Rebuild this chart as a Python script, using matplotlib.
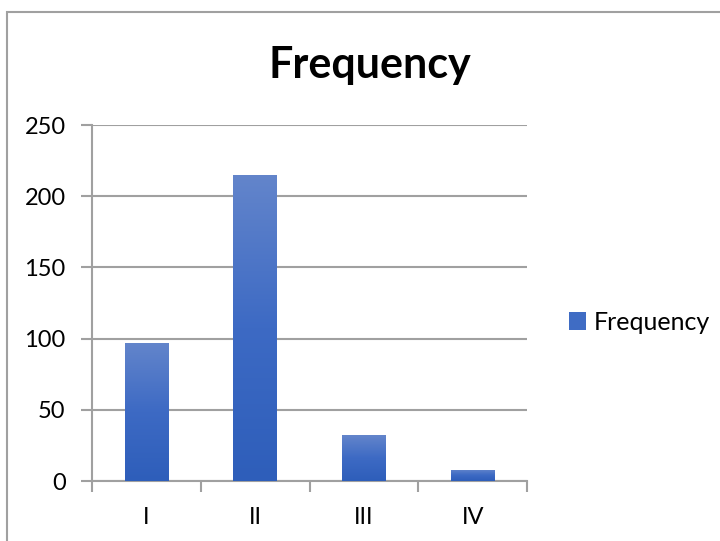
import numpy as np
import matplotlib
matplotlib.use("Agg")
import matplotlib.pyplot as plt
from matplotlib.colors import LinearSegmentedColormap
from matplotlib.patches import Rectangle, Patch

categories = ["I", "II", "III", "IV"]
frequency = [97, 215, 32, 8]
y_ticks = [0, 50, 100, 150, 200, 250]

plt.rcParams['font.family'] = ['Lato', 'DejaVu Sans']

fig = plt.figure(figsize=(7.2, 5.41), dpi=100)
ax = fig.add_axes([92 / 720, 1 - 481 / 541, 435 / 720, 356 / 541])

grid_c = "#a0a0a0"
x = np.arange(len(categories))
bars = ax.bar(x, frequency, width=0.40, color="#3f6cc4", zorder=2)

# vertical gradient fill for each bar, lighter at the top
cmap = LinearSegmentedColormap.from_list("bar", ["#2e5eba", "#3d6ac4", "#6385cb"])
grad = np.linspace(0, 1, 256).reshape(-1, 1)
for b in bars:
    x0, y0 = b.get_x(), b.get_y()
    w, h = b.get_width(), b.get_height()
    im = ax.imshow(grad, cmap=cmap, origin="lower", aspect="auto",
                   extent=[x0, x0 + w, y0, y0 + h], zorder=3)
    im.set_clip_path(b)

ax.set_xlim(-0.5, len(categories) - 0.5)
ax.set_ylim(0, 250)
ax.set_yticks(y_ticks)
ax.set_yticklabels([str(v) for v in y_ticks], fontsize=17)
ax.set_xticks(x)
ax.set_xticklabels(categories, fontsize=17)
ax.set_xticks(np.arange(-0.5, len(categories)), minor=True)
ax.tick_params(axis="x", which="major", length=0, pad=19)
ax.tick_params(axis="x", which="minor", length=8, width=1.5, color=grid_c)
ax.tick_params(axis="y", length=8, width=1.5, color=grid_c, pad=11)

ax.yaxis.grid(True, color=grid_c, linewidth=1.5, zorder=1)
ax.set_axisbelow(True)
for s in ["top", "right"]:
    ax.spines[s].set_visible(False)
for s in ["left", "bottom"]:
    ax.spines[s].set_color(grid_c)
    ax.spines[s].set_linewidth(1.5)

fig.text(370 / 720, 1 - 65 / 541, "Frequency", fontsize=31, fontweight="bold",
         ha="center", va="center")

handle = Patch(facecolor="#3f6cc4", edgecolor="none")
fig.legend([handle], ["Frequency"], loc="center left",
           bbox_to_anchor=(546 / 720, 1 - 322 / 541), frameon=False,
           fontsize=18, handlelength=0.7, handleheight=0.7, handletextpad=0.3)

# outer chart frame
fig.patches.append(Rectangle((7 / 720, -0.01), 1.0, 1 - 12 / 541 + 0.01,
                             transform=fig.transFigure, fill=False,
                             edgecolor=grid_c, linewidth=1.5))

fig.savefig("out.png", dpi=100)
